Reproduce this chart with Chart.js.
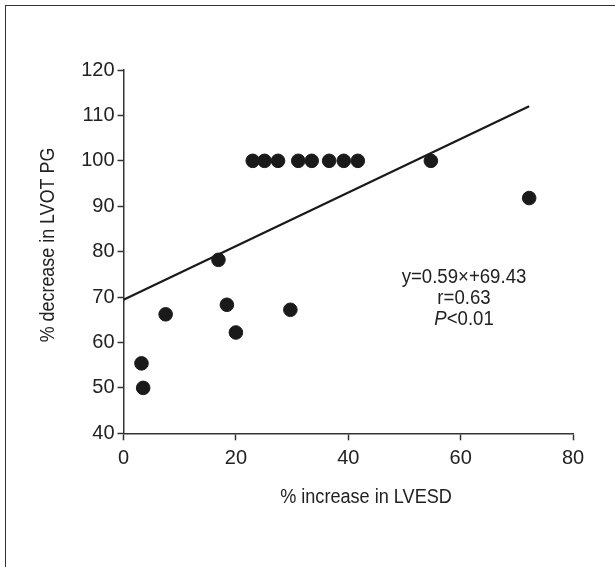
<!DOCTYPE html>
<html>
<head>
<meta charset="utf-8">
<script src="https://cdn.jsdelivr.net/npm/chart.js@4.4.1/dist/chart.umd.min.js"></script>
<style>
  html, body { margin: 0; padding: 0; background: #fff; }
  #wrap { position: relative; width: 615px; height: 567px; }
  #ramka { position: absolute; left: 5px; top: 5px; right: 0; bottom: 0;
           border-left: 1.5px solid #333; border-top: 1.5px solid #333; }
  canvas { position: absolute; left: 0; top: 0; }
</style>
</head>
<body>
<div id="wrap">
  <div id="ramka"></div>
  <canvas id="chart1" width="615" height="567"></canvas>
</div>
<script>
// values
var lvesd = [3.2, 3.5, 7.5, 16.9, 18.4, 20.0, 29.7, 23.0, 25.1, 27.5, 31.1, 33.5, 36.6, 39.2, 41.7, 54.7, 72.2];
var lvotpg = [55.4, 50.0, 66.2, 78.2, 68.3, 62.2, 67.2, 100, 100, 100, 100, 100, 100, 100, 100, 100, 91.8];
// regression line end points
var viivaX = [0, 72.2];
var viivaY = [69.43, 112.0];
var xTitle = "% increase in LVESD";
var yTitle = "% decrease in LVOT PG";
var tekstit = ["y=0.59\u00d7+69.43", "r=0.63"];

var fontti = "'Liberation Sans', Arial, sans-serif";
var musta = "#1a1a1a";

var pisteet = [];
for (let i = 0; i < lvesd.length; i++) pisteet.push({ x: lvesd[i], y: lvotpg[i] });
var viiva = [];
for (let i = 0; i < viivaX.length; i++) viiva.push({ x: viivaX[i], y: viivaY[i] });

// narrow text, the original uses a condensed face
function kapea(ctx, teksti, x, y, kerroin, kulma) {
  ctx.save();
  ctx.translate(x, y);
  if (kulma) ctx.rotate(kulma);
  ctx.scale(kerroin, 1);
  ctx.fillText(teksti, 0, 0);
  ctx.restore();
}

// axis titles and the equation box
var tekstiPlugin = {
  id: 'tekstit',
  afterDraw: function (chart) {
    var ctx = chart.ctx;
    ctx.save();
    ctx.fillStyle = "#222";
    ctx.font = "20px " + fontti;
    ctx.textAlign = "center";
    ctx.textBaseline = "middle";
    kapea(ctx, xTitle, 366, 497, 0.905);
    kapea(ctx, yTitle, 48, 245, 0.895, -Math.PI / 2);

    var cx = 464, k = 0.93;
    kapea(ctx, tekstit[0], cx, 277, k);
    kapea(ctx, tekstit[1], cx, 298, k);
    // P<0.01 with italic P
    ctx.font = "italic 20px " + fontti;
    var w1 = ctx.measureText("P").width * k;
    ctx.font = "20px " + fontti;
    var w2 = ctx.measureText("<0.01").width * k;
    var alku = cx - (w1 + w2) / 2;
    ctx.textAlign = "left";
    ctx.font = "italic 20px " + fontti;
    kapea(ctx, "P", alku, 319, k);
    ctx.font = "20px " + fontti;
    kapea(ctx, "<0.01", alku + w1, 319, k);
    ctx.restore();
  }
};

new Chart(document.getElementById('chart1'), {
  type: 'scatter',
  data: {
    datasets: [{
      label: 'viiva',
      type: 'line',
      data: viiva,
      borderColor: musta,
      borderWidth: 2.2,
      pointRadius: 0,
      fill: false
    }, {
      label: 'potilaat',
      data: pisteet,
      backgroundColor: musta,
      borderColor: musta,
      pointRadius: 6.8,
      pointHoverRadius: 6.8
    }]
  },
  options: {
    responsive: false,
    animation: false,
    events: [],
    layout: { padding: { left: 0, right: 42, top: 70, bottom: 0 } },
    plugins: { legend: { display: false }, tooltip: { enabled: false } },
    scales: {
      x: {
        type: 'linear',
        min: 0, max: 80,
        ticks: { stepSize: 20, color: "#222", font: { family: fontti, size: 20 }, padding: 6 },
        grid: { drawOnChartArea: false, drawTicks: true, tickLength: 7, tickColor: "#333", tickWidth: 1.5 },
        border: { display: true, color: "#333", width: 1.5 },
        afterFit: function (s) { s.height = 133.7; }
      },
      y: {
        min: 40, max: 120,
        ticks: { stepSize: 10, color: "#222", font: { family: fontti, size: 20 }, padding: 3 },
        grid: { drawOnChartArea: false, drawTicks: true, tickLength: 6, tickColor: "#333", tickWidth: 1.5 },
        border: { display: true, color: "#333", width: 1.5 },
        afterFit: function (s) { s.width = 123.5; }
      }
    }
  },
  plugins: [tekstiPlugin]
});
</script>
</body>
</html>
